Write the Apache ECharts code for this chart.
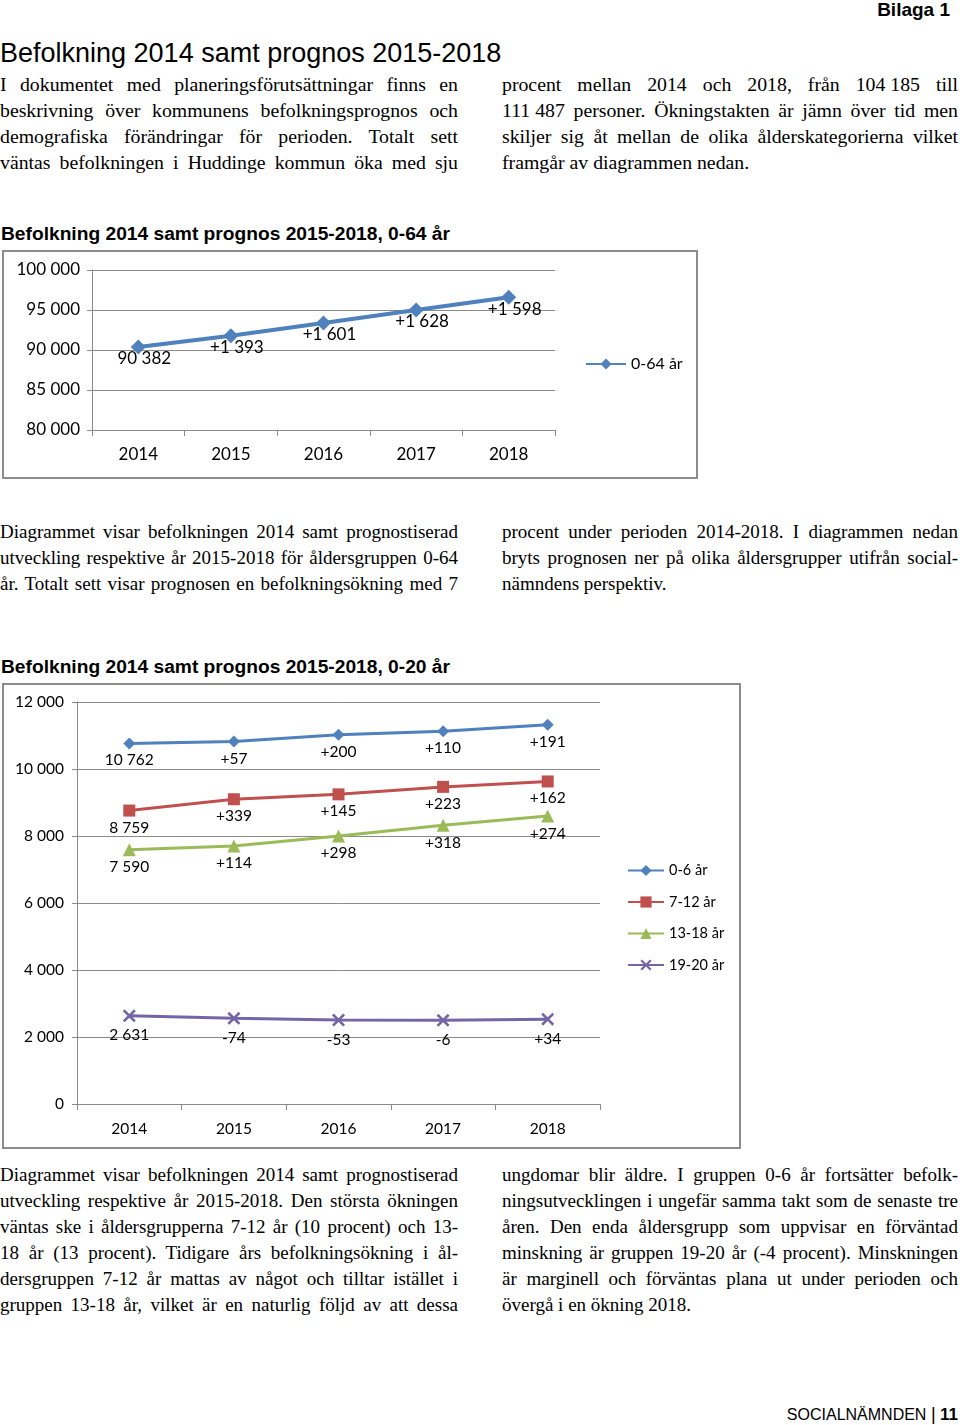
<!DOCTYPE html>
<html>
<head>
<meta charset="utf-8">
<script src="https://cdn.jsdelivr.net/npm/echarts@6/dist/echarts.min.js"></script>
<style>
  html, body { margin: 0; padding: 0; background: #fff; }
  body { width: 960px; height: 1425px; position: relative; overflow: hidden; color: #000; }
  .abs { position: absolute; }
  .sans { font-family: "Liberation Sans", Arial, sans-serif; }
  .col { position: absolute; width: 458px; font-family: "Liberation Serif", "Times New Roman", serif; font-size: 19px; line-height: 26px; }
  .col.big { font-size: 19.8px; }
  .col div { white-space: nowrap; }
  .nw { word-spacing: 0; }
  .box { position: absolute; border: 2px solid #8c8c8c; box-sizing: border-box; }
</style>
</head>
<body>
<div class="abs sans" style="right:10px; top:-2px; font-size:19px; font-weight:bold; line-height:24px;">Bilaga 1</div>
<div class="abs sans" style="left:0px; top:37px; font-size:27px; line-height:32px;">Befolkning 2014 samt prognos 2015-2018</div>

<div class="col big" style="left:0px; top:71px;">
  <div>I dokumentet med planeringsförutsättningar finns en</div>
  <div>beskrivning över kommunens befolkningsprognos och</div>
  <div>demografiska förändringar för perioden. Totalt sett</div>
  <div>väntas befolkningen i Huddinge kommun öka med sju</div>
</div>
<div class="col big" style="left:502px; width:456px; top:71px;">
  <div>procent mellan 2014 och 2018, från <span class="nw">104 185</span> till</div>
  <div><span class="nw">111 487</span> personer. Ökningstakten är jämn över tid men</div>
  <div>skiljer sig åt mellan de olika ålderskategorierna vilket</div>
  <div class="last">framgår av diagrammen nedan.</div>
</div>

<div class="abs sans" style="left:1px; top:222px; font-size:19.2px; font-weight:bold; line-height:24px;">Befolkning 2014 samt prognos 2015-2018, 0-64 år</div>
<div class="box" style="left:2px; top:250px; width:696px; height:229px;"></div>
<div id="c1" class="abs" style="left:0px; top:250px; width:700px; height:230px;"></div>

<div class="col" style="left:0px; top:519px;">
  <div>Diagrammet visar befolkningen 2014 samt prognostiserad</div>
  <div>utveckling respektive år 2015-2018 för åldersgruppen 0-64</div>
  <div>år. Totalt sett visar prognosen en befolkningsökning med 7</div>
</div>
<div class="col" style="left:502px; width:456px; top:519px;">
  <div>procent under perioden 2014-2018. I diagrammen nedan</div>
  <div>bryts prognosen ner på olika åldersgrupper utifrån social-</div>
  <div class="last">nämndens perspektiv.</div>
</div>

<div class="abs sans" style="left:1px; top:655px; font-size:19.2px; font-weight:bold; line-height:24px;">Befolkning 2014 samt prognos 2015-2018, 0-20 år</div>
<div class="box" style="left:2px; top:683px; width:739px; height:466px;"></div>
<div id="c2" class="abs" style="left:0px; top:683px; width:745px; height:468px;"></div>

<div class="col" style="left:0px; top:1162px;">
  <div>Diagrammet visar befolkningen 2014 samt prognostiserad</div>
  <div>utveckling respektive år 2015-2018. Den största ökningen</div>
  <div>väntas ske i åldersgrupperna 7-12 år (10 procent) och 13-</div>
  <div>18 år (13 procent). Tidigare års befolkningsökning i ål-</div>
  <div>dersgruppen 7-12 år mattas av något och tilltar istället i</div>
  <div>gruppen 13-18 år, vilket är en naturlig följd av att dessa</div>
</div>
<div class="col" style="left:502px; width:456px; top:1162px;">
  <div>ungdomar blir äldre. I gruppen 0-6 år fortsätter befolk-</div>
  <div>ningsutvecklingen i ungefär samma takt som de senaste tre</div>
  <div>åren. Den enda åldersgrupp som uppvisar en förväntad</div>
  <div>minskning är gruppen 19-20 år (-4 procent). Minskningen</div>
  <div>är marginell och förväntas plana ut under perioden och</div>
  <div class="last">övergå i en ökning 2018.</div>
</div>

<div class="abs sans" style="right:2px; top:1404px; font-size:16px; line-height:20px;">SOCIALNÄMNDEN <span style="font-size:18px;">|</span> <b style="font-size:17px;">11</b></div>

<script>
// ---- Data ----
const years = ['2014', '2015', '2016', '2017', '2018'];

// Chart 1: 0-64 år
const pop0_64 = [90382, 91775, 93376, 95004, 96602];
const lab0_64 = ['90 382', '+1 393', '+1 601', '+1 628', '+1 598'];

// Chart 2: 0-20 år
const seriesNames2 = ['0-6 år', '7-12 år', '13-18 år', '19-20 år'];
const age0_6 = [10762, 10819, 11019, 11129, 11320];
const lab0_6 = ['10 762', '+57', '+200', '+110', '+191'];
const age7_12 = [8759, 9098, 9243, 9466, 9628];
const lab7_12 = ['8 759', '+339', '+145', '+223', '+162'];
const age13_18 = [7590, 7704, 8002, 8320, 8594];
const lab13_18 = ['7 590', '+114', '+298', '+318', '+274'];
const age19_20 = [2631, 2557, 2504, 2498, 2532];
const lab19_20 = ['2 631', '-74', '-53', '-6', '+34'];

// ---- Justify body text lines to column width ----
document.querySelectorAll('.col div').forEach(d => {
  if (d.classList.contains('last')) return;
  const target = d.parentElement.clientWidth;
  const span = document.createElement('span');
  while (d.firstChild) span.appendChild(d.firstChild);
  d.appendChild(span);
  const w = span.getBoundingClientRect().width;
  let spaces = (span.textContent.match(/ /g) || []).length;
  span.querySelectorAll('.nw').forEach(n => { spaces -= (n.textContent.match(/ /g) || []).length; });
  if (spaces > 0) span.style.wordSpacing = ((target - w) / spaces) + 'px';
});

// ---- Helpers ----
const fmt = v => String(v).replace(/\B(?=(\d{3})+(?!\d))/g, ' ');
const FONT = 'Lato, "Open Sans", sans-serif';
const GRID = '#8a8a8a';
const crossPath = 'path://M0,1.4L1.4,0L5,3.6L8.6,0L10,1.4L6.4,5L10,8.6L8.6,10L5,6.4L1.4,10L0,8.6L3.6,5Z';

// ---- Chart 1 ----
const c1 = echarts.init(document.getElementById('c1'), null, { renderer: 'canvas' });
c1.setOption({
  animation: false,
  textStyle: { fontFamily: FONT },
  grid: { left: 92, top: 20, width: 463, height: 160 },
  legend: {
    left: 585, top: 106, padding: 0, itemWidth: 40, itemHeight: 14, itemGap: 5,
    textStyle: { fontSize: 16, color: '#000', fontFamily: FONT },
    data: ['0-64 år']
  },
  xAxis: {
    type: 'category', data: years, boundaryGap: true,
    axisLine: { lineStyle: { color: GRID, width: 1 } },
    axisTick: { show: true, length: 6, lineStyle: { color: GRID } },
    axisLabel: { fontSize: 17, color: '#000', margin: 16, fontFamily: FONT }
  },
  yAxis: {
    type: 'value', min: 80000, max: 100000, interval: 5000,
    axisLine: { show: true, lineStyle: { color: GRID, width: 1 } },
    axisTick: { show: true, length: 5, lineStyle: { color: GRID } },
    splitLine: { lineStyle: { color: GRID, width: 1 } },
    axisLabel: { fontSize: 17, color: '#000', margin: 12, formatter: fmt, fontFamily: FONT }
  },
  series: [{
    name: '0-64 år', type: 'line', data: pop0_64,
    symbol: 'diamond', symbolSize: 15,
    lineStyle: { color: '#4F81BD', width: 4 },
    itemStyle: { color: '#4F81BD' },
    label: {
      show: true, position: 'bottom', distance: 0, offset: [6, -4],
      fontSize: 17, color: '#000', fontFamily: FONT,
      formatter: p => lab0_64[p.dataIndex]
    }
  }]
});

// ---- Chart 2 ----
const c2 = echarts.init(document.getElementById('c2'), null, { renderer: 'canvas' });
function mk(name, data, labels, color, symbol, size, offset) {
  return {
    name, type: 'line', data, symbol, symbolSize: size,
    lineStyle: { color, width: 3 },
    itemStyle: { color },
    label: {
      show: true, position: 'bottom', distance: 3, offset: offset,
      fontSize: 15.5, color: '#000', fontFamily: FONT,
      formatter: p => labels[p.dataIndex]
    }
  };
}
c2.setOption({
  animation: false,
  textStyle: { fontFamily: FONT },
  grid: { left: 77, top: 19, width: 523, height: 402 },
  legend: {
    orient: 'vertical', left: 627, top: 180, padding: 0, itemWidth: 36, itemHeight: 14, itemGap: 16.5,
    textStyle: { fontSize: 14.5, color: '#000', fontFamily: FONT },
    data: seriesNames2
  },
  xAxis: {
    type: 'category', data: years, boundaryGap: true,
    axisLine: { lineStyle: { color: GRID, width: 1 } },
    axisTick: { show: true, length: 6, lineStyle: { color: GRID } },
    axisLabel: { fontSize: 15.5, color: '#000', margin: 17, fontFamily: FONT }
  },
  yAxis: {
    type: 'value', min: 0, max: 12000, interval: 2000,
    axisLine: { show: true, lineStyle: { color: GRID, width: 1 } },
    axisTick: { show: true, length: 5, lineStyle: { color: GRID } },
    splitLine: { lineStyle: { color: GRID, width: 1 } },
    axisLabel: { fontSize: 15.5, color: '#000', margin: 13, formatter: fmt, fontFamily: FONT }
  },
  series: [
    mk(seriesNames2[0], age0_6, lab0_6, '#4F81BD', 'diamond', 12, [0, 0]),
    mk(seriesNames2[1], age7_12, lab7_12, '#C0504D', 'rect', 12, [0, 0]),
    mk(seriesNames2[2], age13_18, lab13_18, '#9BBB59', 'triangle', 13, [0, 0]),
    mk(seriesNames2[3], age19_20, lab19_20, '#7466A6', crossPath, 13, [0, 2])
  ]
});
</script>
</body>
</html>
